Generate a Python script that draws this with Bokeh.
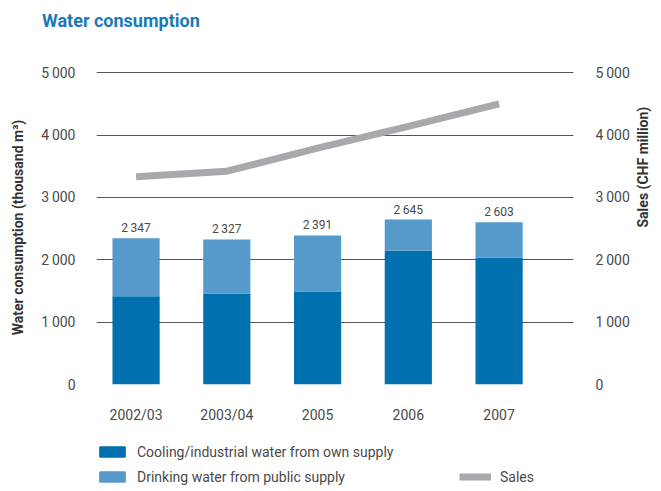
import math
from bokeh.plotting import figure
from bokeh.models import (Range1d, LinearAxis, FixedTicker, Legend, LegendItem,
                          ColumnDataSource, LabelSet, Div)
from bokeh.core.properties import value
from bokeh.layouts import column
from bokeh.embed import file_html
from bokeh.resources import INLINE

# ---- data ----
categories = ["2002/03", "2003/04", "2005", "2006", "2007"]
cooling = [1417, 1460, 1492, 2145, 2033]
totals = [2347, 2327, 2391, 2645, 2603]
drinking = [t - c for t, c in zip(totals, cooling)]
sales = [3330, 3420, 3790, 4140, 4500]
y_ticks = [0, 1000, 2000, 3000, 4000, 5000]
series_names = ["Cooling/industrial water from own supply",
                "Drinking water from public supply", "Sales"]

# ---- styles ----
FONT = "Roboto"
DARK = "#0070ae"
LIGHT = "#569acb"
GREY = "#a7a9ac"
TXT = "#4a4a4a"

def fmt(v):
    return f"{v:,}".replace(",", "\u2009")

x = [i + 0.5 for i in range(len(categories))]
src = ColumnDataSource(dict(x=x, cat=categories, cooling=cooling, drinking=drinking,
                            totals=totals, total_lbl=[fmt(t) for t in totals], sales=sales))

p = figure(width=661, height=386, x_range=Range1d(0.064, 5.32), y_range=Range1d(0, 5035),
           output_backend="svg", toolbar_location=None,
           min_border_left=96, min_border_right=83, min_border_top=30, min_border_bottom=42,
           y_axis_label="Water consumption (thousand m\u00b3)")
p.extra_y_ranges = {"sales": Range1d(0, 5035)}
p.outline_line_color = None
p.xgrid.visible = False
p.ygrid.ticker = FixedTicker(ticks=y_ticks)
p.ygrid.grid_line_color = "#555555"
p.ygrid.grid_line_width = 1

bars = p.vbar_stack(["cooling", "drinking"], x="x", width=0.52, color=[DARK, LIGHT],
                    line_color=None, source=src)
line = p.line("x", "sales", source=src, line_width=7, line_color=GREY,
              y_range_name="sales")

labels = LabelSet(x="x", y="totals", text="total_lbl", source=src, y_offset=3,
                  text_align="center", text_baseline="bottom", text_font_size="12px",
                  text_color=TXT, text_font=value(FONT))
p.add_layout(labels)

def style_axis(ax):
    ax.axis_line_color = None
    ax.major_tick_line_color = None
    ax.minor_tick_line_color = None
    ax.major_label_text_font = FONT
    ax.major_label_text_font_size = "14px"
    ax.major_label_text_color = TXT
    ax.axis_label_text_font = FONT
    ax.axis_label_text_font_size = "14px"
    ax.axis_label_text_font_style = "bold"
    ax.axis_label_text_color = "#333333"

yl = p.yaxis[0]
yl.ticker = FixedTicker(ticks=y_ticks)
yl.major_label_overrides = {t: fmt(t) for t in y_ticks}
yl.major_label_standoff = 15
yl.axis_label_standoff = 12
style_axis(yl)

yr = LinearAxis(y_range_name="sales", axis_label="Sales (CHF million)",
                ticker=FixedTicker(ticks=y_ticks))
yr.major_label_overrides = {t: fmt(t) for t in y_ticks}
yr.major_label_standoff = 16
yr.axis_label_standoff = 10
style_axis(yr)
yr.axis_label_orientation = math.pi / 2
p.add_layout(yr, "right")

xa = p.xaxis[0]
xa.ticker = FixedTicker(ticks=x)
xa.major_label_overrides = {xv: c for xv, c in zip(x, categories)}
xa.major_label_standoff = 16
style_axis(xa)

# ---- legend panel (hidden proxy renderers; frame aligned with the main plot) ----
q = figure(width=661, height=65, x_range=Range1d(0, 1), y_range=Range1d(0, 1),
           output_backend="svg", toolbar_location=None,
           x_axis_location=None, y_axis_location=None,
           min_border_left=96, min_border_right=83, min_border_top=0, min_border_bottom=0)
q.grid.visible = False
q.outline_line_color = None
r1 = q.vbar(x="x", top="cooling", width=0.5, color=DARK, source=src, visible=False)
r2 = q.vbar(x="x", top="totals", width=0.5, color=LIGHT, source=src, visible=False)
r3 = q.line(x="x", y="sales", line_width=7, line_color=GREY, source=src, visible=False)

def style_legend(lg):
    lg.glyph_width = 32
    lg.glyph_height = 13
    lg.label_standoff = 9
    lg.spacing = 8
    lg.label_height = 17
    lg.label_text_font = FONT
    lg.label_text_font_size = "14px"
    lg.label_text_color = TXT
    lg.border_line_color = None
    lg.background_fill_alpha = 0
    lg.inactive_fill_alpha = 0
    lg.padding = 0
    lg.margin = 0

leg1 = Legend(items=[LegendItem(label=series_names[0], renderers=[r1]),
                     LegendItem(label=series_names[1], renderers=[r2])],
              orientation="vertical", location=(0, 6))
style_legend(leg1)
leg2 = Legend(items=[LegendItem(label=series_names[2], renderers=[r3])],
              orientation="vertical", location=(363, 6))
style_legend(leg2)
q.add_layout(leg1)
q.add_layout(leg2)

title = Div(text='<div style="font-family:Roboto;font-weight:bold;font-size:18px;'
                 'color:#1a7ab8;padding:8px 0 0 42px;">Water consumption</div>',
            width=661, height=40, margin=(0, 0, 0, 0))

layout = column(title, p, q, spacing=0)
open("out.html", "w").write(file_html(layout, INLINE))
